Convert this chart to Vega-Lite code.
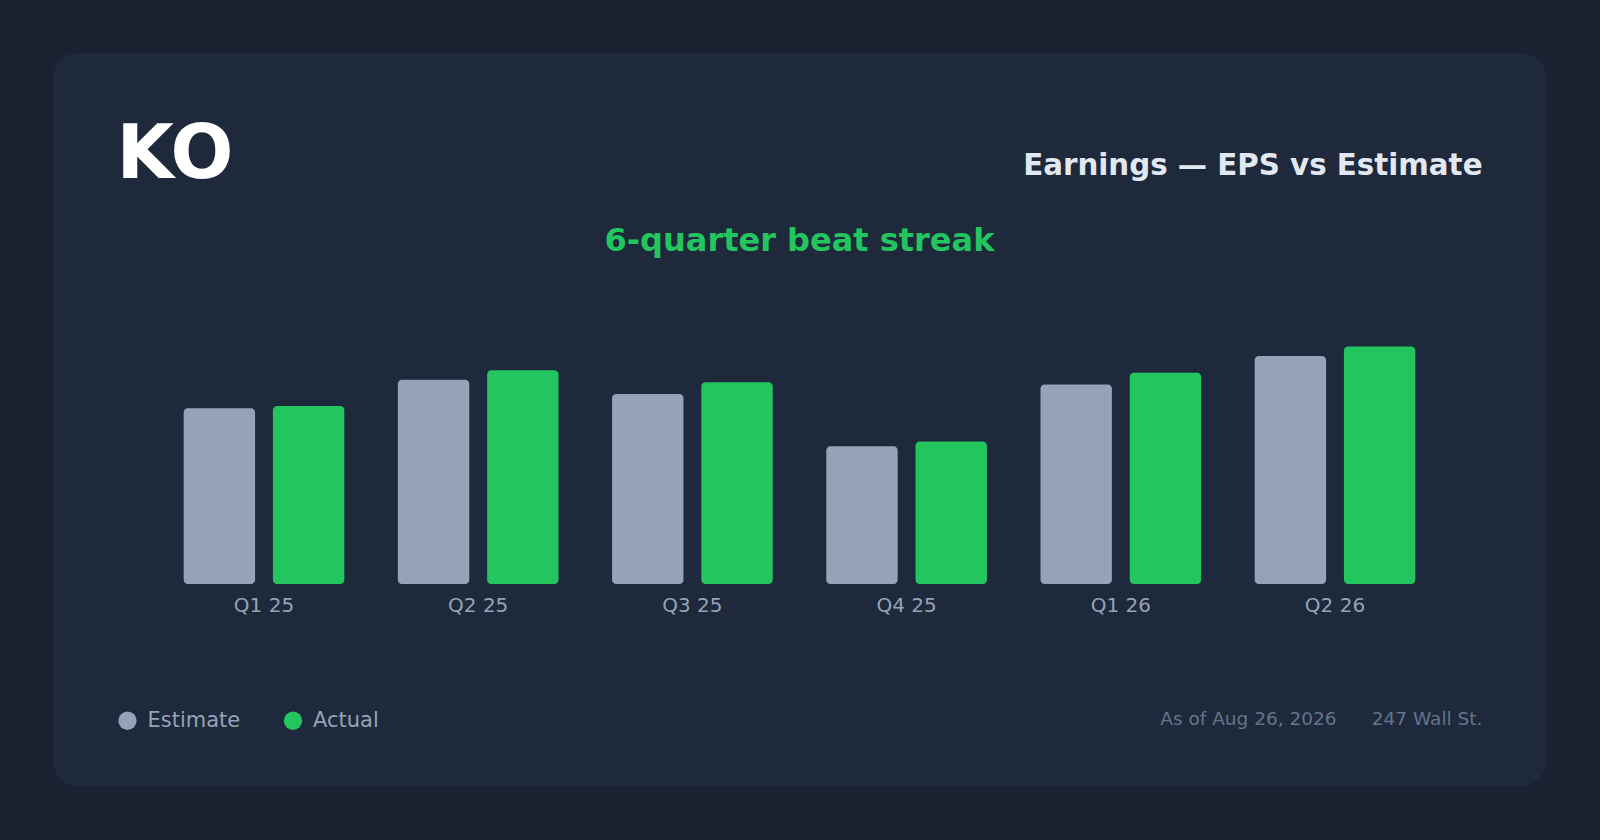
{
  "$schema": "https://vega.github.io/schema/vega-lite/v6.json",
  "width": 1493,
  "height": 733,
  "autosize": {"type": "none"},
  "padding": {"left": 53, "top": 53, "right": 54, "bottom": 54},
  "background": "#1a2231",
  "title": {
    "text": "6-quarter beat streak",
    "anchor": "middle",
    "frame": "group",
    "orient": "top",
    "offset": 0,
    "dy": 230,
    "baseline": "alphabetic",
    "color": "#22c55e",
    "fontSize": 32,
    "fontWeight": "bold"
  },
  "data": {
    "values": [
      {"quarter": "Q1 25", "series": "Estimate", "eps": 0.74},
      {"quarter": "Q1 25", "series": "Actual", "eps": 0.75},
      {"quarter": "Q2 25", "series": "Estimate", "eps": 0.86},
      {"quarter": "Q2 25", "series": "Actual", "eps": 0.90},
      {"quarter": "Q3 25", "series": "Estimate", "eps": 0.80},
      {"quarter": "Q3 25", "series": "Actual", "eps": 0.85},
      {"quarter": "Q4 25", "series": "Estimate", "eps": 0.58},
      {"quarter": "Q4 25", "series": "Actual", "eps": 0.60},
      {"quarter": "Q1 26", "series": "Estimate", "eps": 0.84},
      {"quarter": "Q1 26", "series": "Actual", "eps": 0.89},
      {"quarter": "Q2 26", "series": "Estimate", "eps": 0.96},
      {"quarter": "Q2 26", "series": "Actual", "eps": 1.00}
    ]
  },
  "encoding": {
    "x": {
      "field": "quarter",
      "type": "nominal",
      "sort": null,
      "scale": {"paddingInner": 0.25, "paddingOuter": 0.61},
      "axis": {
        "orient": "bottom",
        "offset": -202,
        "domain": false,
        "ticks": false,
        "tickSize": 0,
        "grid": false,
        "labelAngle": 0,
        "labelColor": "#94a3b8",
        "labelFontSize": 20,
        "labelBaseline": "alphabetic",
        "labelPadding": 27,
        "title": "As of Aug 26, 2026\u00a0\u00a0\u00a0\u00a0\u00a0\u00a0247 Wall St.",
        "titleColor": "#64748b",
        "titleFontSize": 18.5,
        "titleFontWeight": "normal",
        "titleAnchor": "end",
        "titleAlign": "right",
        "titleBaseline": "alphabetic",
        "titleX": 1429,
        "titleY": 140
      }
    },
    "xOffset": {
      "field": "series",
      "type": "nominal",
      "scale": {"domain": ["Estimate", "Actual"], "paddingInner": 0.2, "paddingOuter": 0}
    },
    "y": {
      "field": "eps",
      "type": "quantitative",
      "scale": {"domain": [-0.8505, 2.236], "nice": false}
    },
    "y2": {"datum": 0},
    "color": {
      "field": "series",
      "type": "nominal",
      "scale": {"domain": ["Estimate", "Actual"], "range": ["#94a3b8", "#22c55e"]},
      "legend": {
        "orient": "none",
        "legendX": 64,
        "legendY": 657,
        "direction": "horizontal",
        "title": null,
        "symbolType": "circle",
        "symbolSize": 335,
        "symbolStrokeWidth": 0,
        "symbolOpacity": 1,
        "labelColor": "#94a3b8",
        "labelFontSize": 21,
        "labelOffset": 9.5,
        "columnPadding": 41.5,
        "padding": 0
      }
    }
  },
  "layer": [
    {
      "transform": [{"filter": "datum.series === 'Estimate'"}],
      "mark": {"type": "bar", "cornerRadius": 4},
      "encoding": {
        "y": {
          "field": "eps",
          "type": "quantitative",
          "scale": {"domain": [-0.8505, 2.236], "nice": false},
          "axis": {
            "orient": "left",
            "domain": false,
            "ticks": false,
            "labels": false,
            "grid": false,
            "title": "KO",
            "titleAngle": 0,
            "titleAlign": "left",
            "titleBaseline": "alphabetic",
            "titleX": 63,
            "titleY": 124,
            "titleFontSize": 74,
            "titleFontWeight": "bold",
            "titleColor": "#ffffff"
          }
        }
      }
    },
    {
      "transform": [{"filter": "datum.series === 'Actual'"}],
      "mark": {"type": "bar", "cornerRadius": 4},
      "encoding": {
        "y": {
          "field": "eps",
          "type": "quantitative",
          "scale": {"domain": [-0.8505, 2.236], "nice": false},
          "axis": {
            "orient": "right",
            "domain": false,
            "ticks": false,
            "labels": false,
            "grid": false,
            "title": "Earnings — EPS vs Estimate",
            "titleAngle": 0,
            "titleAlign": "right",
            "titleBaseline": "alphabetic",
            "titleX": -64,
            "titleY": 121,
            "titleFontSize": 29.3,
            "titleFontWeight": "bold",
            "titleColor": "#e2e8f0"
          }
        }
      }
    }
  ],
  "resolve": {"axis": {"y": "independent"}},
  "config": {
    "font": "DejaVu Sans",
    "view": {"fill": "#1e293b", "stroke": null, "cornerRadius": 25}
  }
}
